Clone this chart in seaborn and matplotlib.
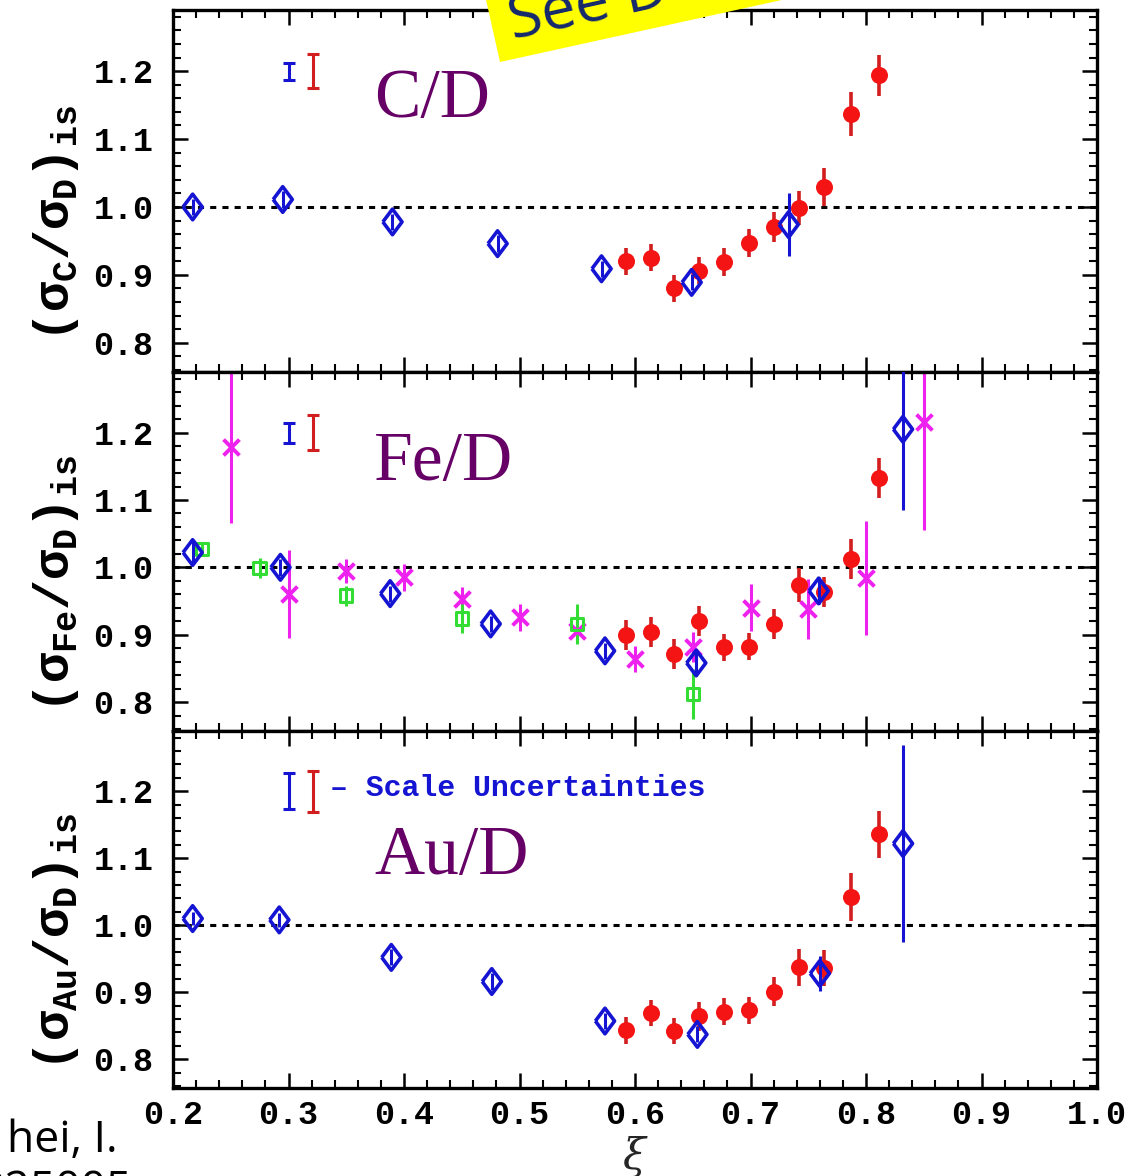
import numpy as np
import pandas as pd
import matplotlib
matplotlib.use("Agg")
import matplotlib.pyplot as plt
from matplotlib.patches import Polygon
from matplotlib.ticker import MultipleLocator
import seaborn as sns

# -----------------------------
# Data
# -----------------------------
xi_red = [0.592, 0.614, 0.634, 0.655, 0.677, 0.699, 0.720, 0.742, 0.764, 0.787, 0.811]

# C/D
c_red_y = [0.920, 0.925, 0.880, 0.906, 0.919, 0.947, 0.970, 0.999, 1.030, 1.137, 1.194]
c_red_err = [0.020, 0.020, 0.020, 0.020, 0.020, 0.020, 0.022, 0.025, 0.028, 0.032, 0.030]
c_blue_x = [0.217, 0.295, 0.390, 0.481, 0.571, 0.649, 0.733]
c_blue_y = [1.000, 1.011, 0.978, 0.946, 0.909, 0.889, 0.974]
c_blue_err = [0.012, 0.013, 0.012, 0.012, 0.012, 0.012, 0.046]

# Fe/D
fe_red_y = [0.900, 0.904, 0.871, 0.920, 0.881, 0.882, 0.916, 0.974, 0.963, 1.012, 1.133]
fe_red_err = [0.022, 0.022, 0.022, 0.022, 0.020, 0.020, 0.022, 0.025, 0.022, 0.030, 0.030]
fe_blue_x = [0.217, 0.293, 0.388, 0.475, 0.574, 0.653, 0.759, 0.832]
fe_blue_y = [1.022, 1.000, 0.961, 0.916, 0.876, 0.858, 0.965, 1.205]
fe_blue_err = [0.015, 0.013, 0.012, 0.012, 0.012, 0.020, 0.020, 0.120]
fe_mag_x = [0.25, 0.30, 0.35, 0.40, 0.45, 0.50, 0.55, 0.60, 0.65, 0.70, 0.75, 0.80, 0.85]
fe_mag_y = [1.178, 0.960, 0.994, 0.985, 0.953, 0.926, 0.905, 0.864, 0.882, 0.940, 0.938, 0.984, 1.216]
fe_mag_err = [0.112, 0.065, 0.018, 0.020, 0.018, 0.020, 0.015, 0.019, 0.022, 0.035, 0.045, 0.085, 0.160]
fe_green_x = [0.225, 0.275, 0.350, 0.450, 0.550, 0.650]
fe_green_y = [1.027, 0.999, 0.958, 0.924, 0.916, 0.812]
fe_green_err = [0.010, 0.015, 0.015, 0.022, 0.030, 0.037]

# Au/D
au_red_y = [0.843, 0.869, 0.842, 0.864, 0.871, 0.873, 0.901, 0.937, 0.936, 1.042, 1.136]
au_red_err = [0.020, 0.020, 0.020, 0.022, 0.020, 0.020, 0.022, 0.027, 0.027, 0.036, 0.035]
au_blue_x = [0.217, 0.292, 0.389, 0.476, 0.574, 0.654, 0.760, 0.832]
au_blue_y = [1.010, 1.008, 0.952, 0.916, 0.857, 0.837, 0.928, 1.122]
au_blue_err = [0.010, 0.010, 0.012, 0.012, 0.012, 0.012, 0.026, 0.147]

# scale uncertainty bars (blue, red) per panel
scale_x = [0.300, 0.321]
scale_err = {"C": [0.0125, 0.025], "Fe": [0.015, 0.026], "Au": [0.027, 0.031]}

x_ticks = [0.2, 0.3, 0.4, 0.5, 0.6, 0.7, 0.8, 0.9, 1.0]
y_ticks = [0.8, 0.9, 1.0, 1.1, 1.2]

BLUE = "#1414d2"
RED = "#f51414"
RED_BAR = "#d21e1e"
MAG = "#ee22ee"
GREEN = "#33dd33"
PURPLE = "#660066"

sns.set_theme(style="white")
plt.rcParams["mathtext.fontset"] = "custom"
plt.rcParams["mathtext.rm"] = "Liberation Mono:bold"
plt.rcParams["mathtext.it"] = "Liberation Mono:bold"
plt.rcParams["mathtext.bf"] = "Liberation Mono:bold"

fig = plt.figure(figsize=(11.37, 11.76), dpi=100)

W, H = 1137.0, 1176.0
left = 173 / W
width = (1097 - 173) / W
panel_px = [(10, 372), (372, 731), (731, 1088)]
axes = []
for top, bot in panel_px:
    axes.append(fig.add_axes([left, 1 - bot / H, width, (bot - top) / H]))


def diamond():
    return [(-0.75, 0.0), (0.0, 1.0), (0.75, 0.0), (0.0, -1.0), (-0.75, 0.0)]


def draw_series(ax, x, y, err, kind):
    if kind == "red":
        ax.errorbar(x, y, yerr=err, fmt="none", ecolor=RED_BAR, elinewidth=2.6, zorder=2)
        sns.scatterplot(x=x, y=y, ax=ax, marker="o", s=150, color=RED,
                        edgecolor=RED, linewidth=0, zorder=3)
    elif kind == "blue":
        ax.errorbar(x, y, yerr=err, fmt="none", ecolor=BLUE, elinewidth=2.2, zorder=4)
        sns.scatterplot(x=x, y=y, ax=ax, marker=diamond(), s=340, facecolor="none",
                        edgecolor=BLUE, linewidth=2.6, zorder=5)
    elif kind == "mag":
        ax.errorbar(x, y, yerr=err, fmt="none", ecolor=MAG, elinewidth=2.2, zorder=2)
        sns.scatterplot(x=x, y=y, ax=ax, marker="x", s=130, color=MAG,
                        linewidth=2.8, zorder=3)
    elif kind == "green":
        ax.errorbar(x, y, yerr=err, fmt="none", ecolor=GREEN, elinewidth=2.2, zorder=2)
        sns.scatterplot(x=x, y=y, ax=ax, marker="s", s=80, facecolor="none",
                        edgecolor=GREEN, linewidth=2.2, zorder=3)


def style_axis(ax, label_sub, show_x):
    ax.set_xlim(0.2, 1.0)
    ax.set_ylim(0.757, 1.29)
    ax.axhline(1.0, color="black", lw=2.2, ls=(0, (2, 2)), zorder=1)
    ax.set_xticks(x_ticks)
    ax.set_yticks(y_ticks)
    ax.xaxis.set_minor_locator(MultipleLocator(0.02))
    ax.yaxis.set_minor_locator(MultipleLocator(0.02))
    ax.tick_params(which="both", direction="in", top=True, right=True,
                   bottom=True, left=True, color="black")
    ax.tick_params(which="major", length=11, width=1.8)
    ax.tick_params(which="minor", length=6, width=1.5)
    ax.tick_params(axis="y", which="major", pad=14)
    ax.tick_params(axis="x", which="major", pad=9)
    for sp in ax.spines.values():
        sp.set_color("black")
        sp.set_linewidth(2.4)
        sp.set_visible(True)
    ax.set_yticklabels(["%.1f" % t for t in y_ticks], fontfamily="Liberation Mono",
                       fontweight="bold", fontsize=24, color="black")
    if show_x:
        ax.set_xticklabels(["%.1f" % t for t in x_ticks], fontfamily="Liberation Mono",
                           fontweight="bold", fontsize=24, color="black")
        ax.set_xlabel(r"$\xi$", fontsize=30, labelpad=2,
                      fontfamily="DejaVu Serif", math_fontfamily="dejavuserif")
    else:
        ax.set_xticklabels([])
        ax.set_xlabel("")
    ax.set_ylabel(r"$(\sigma_{\rm %s}/\sigma_{\rm D})_{\rm is}$" % label_sub,
                  fontsize=36, color="black")
    ax.yaxis.set_label_coords(-0.10, 0.41)


def scale_bars(ax, errs):
    ax.errorbar([scale_x[0]], [1.2], yerr=[errs[0]], fmt="none", ecolor=BLUE,
                elinewidth=2.2, capsize=4, capthick=2.2, zorder=4)
    ax.errorbar([scale_x[1]], [1.2], yerr=[errs[1]], fmt="none", ecolor=RED_BAR,
                elinewidth=2.2, capsize=4, capthick=2.2, zorder=4)


# -----------------------------
# Panel 1: C/D
# -----------------------------
ax = axes[0]
draw_series(ax, xi_red, c_red_y, c_red_err, "red")
draw_series(ax, c_blue_x, c_blue_y, c_blue_err, "blue")
scale_bars(ax, scale_err["C"])
style_axis(ax, "C", False)
ax.text(0.218, 0.75, "C/D", transform=ax.transAxes, fontsize=50,
        fontfamily="Liberation Serif", color=PURPLE, va="center", ha="left")

# -----------------------------
# Panel 2: Fe/D
# -----------------------------
ax = axes[1]
draw_series(ax, fe_mag_x, fe_mag_y, fe_mag_err, "mag")
draw_series(ax, fe_green_x, fe_green_y, fe_green_err, "green")
draw_series(ax, xi_red, fe_red_y, fe_red_err, "red")
draw_series(ax, fe_blue_x, fe_blue_y, fe_blue_err, "blue")
scale_bars(ax, scale_err["Fe"])
style_axis(ax, "Fe", False)
ax.text(0.218, 0.745, "Fe/D", transform=ax.transAxes, fontsize=50,
        fontfamily="Liberation Serif", color=PURPLE, va="center", ha="left")

# -----------------------------
# Panel 3: Au/D
# -----------------------------
ax = axes[2]
draw_series(ax, xi_red, au_red_y, au_red_err, "red")
draw_series(ax, au_blue_x, au_blue_y, au_blue_err, "blue")
scale_bars(ax, scale_err["Au"])
style_axis(ax, "Au", True)
ax.text(0.218, 0.645, "Au/D", transform=ax.transAxes, fontsize=50,
        fontfamily="Liberation Serif", color=PURPLE, va="center", ha="left")
ax.text(0.170, 0.840, "\u2013 Scale Uncertainties", transform=ax.transAxes,
        fontsize=21.5, fontfamily="Liberation Mono", fontweight="bold",
        color=BLUE, va="center", ha="left")

# -----------------------------
# Slide overlays
# -----------------------------
def px(xp, yp):
    return (xp / W, 1 - yp / H)

box = Polygon([px(500, 62), px(1086, -67), px(1065, -165), px(478, -36)],
              closed=True, transform=fig.transFigure, facecolor="#ffff00",
              edgecolor="none", zorder=10)
fig.patches.append(box)
fig.text(*px(513, 40), "See D", fontsize=44, fontfamily="Open Sans",
         color="#14286e", rotation=12.4, rotation_mode="anchor",
         ha="left", va="baseline", zorder=11)

fig.text(*px(118, 1152), "hei, I.", fontsize=32, fontfamily="Open Sans",
         color="black", ha="right", va="baseline")
fig.text(*px(132, 1168), "025005", fontsize=32, fontfamily="Open Sans",
         color="black", ha="right", va="top")

fig.savefig("out.png", dpi=100)
